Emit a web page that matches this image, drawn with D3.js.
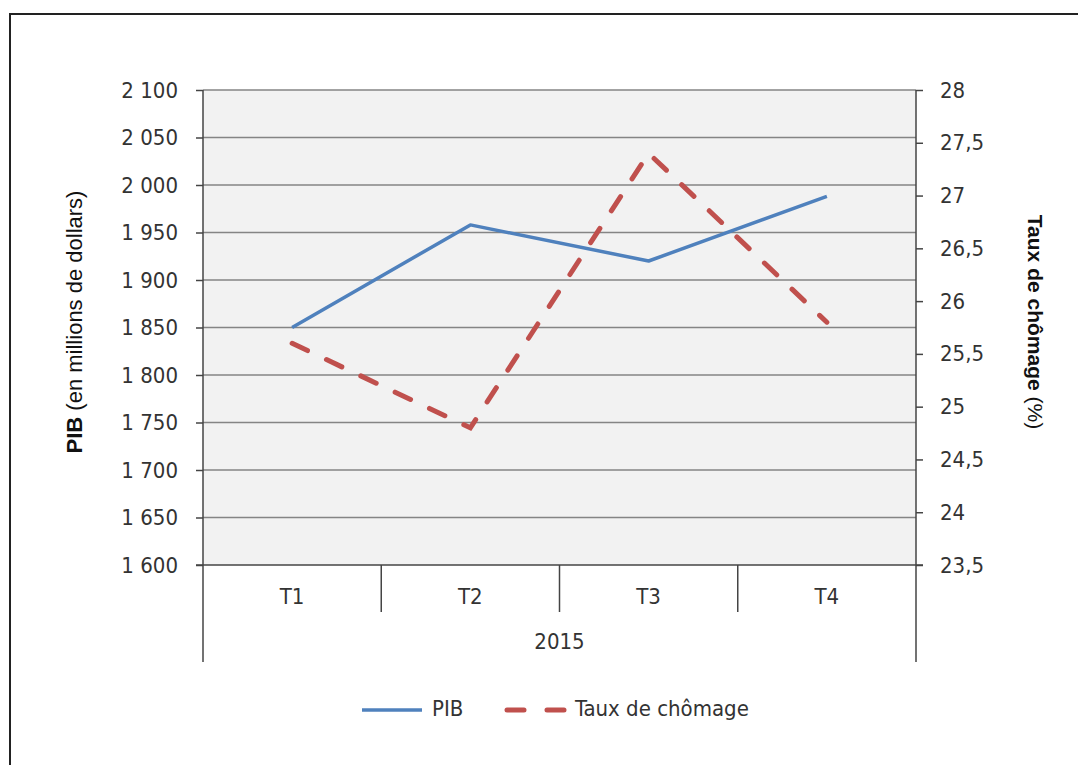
<!DOCTYPE html>
<html>
<head>
<meta charset="utf-8">
<script src="https://cdn.jsdelivr.net/npm/d3@7"></script>
<style>
  body { margin: 0; background: #fff; }
  svg { display: block; }
</style>
</head>
<body>
<div id="chart"></div>
<script>
const quarters = ["T1", "T2", "T3", "T4"];
const year = "2015";
const pib = [1850, 1958, 1920, 1988];
const chomage = [25.6, 24.8, 27.4, 25.8];
const pibTicks = d3.range(1600, 2101, 50);
const chomageTicks = d3.range(23.5, 28.01, 0.5);
const seriesNames = ["PIB", "Taux de chômage"];

const width = 1078;
const height = 765;
const plot = { left: 203, right: 916, top: 90, bottom: 565 };
const catBottom = 612;
const axisBottom = 662;

const narrow = "'Liberation Sans Narrow', 'Arial Narrow', 'DejaVu Sans Condensed', sans-serif";
const regular = "'Liberation Sans', Arial, sans-serif";
const textColor = "#333";
const blue = "#4f81bd";
const red = "#c0504d";

const fr = d3.formatLocale({ decimal: ",", thousands: " ", grouping: [3], currency: ["", " €"] });
const fmtLeft = fr.format(",d");
const fmtRight = fr.format(".1~f");

const x = d3.scaleBand(quarters, [plot.left, plot.right]);
const yLeft = d3.scaleLinear([1600, 2100], [plot.bottom, plot.top]);
const yRight = d3.scaleLinear([23.5, 28], [plot.bottom, plot.top]);

const svg = d3.select("#chart").append("svg")
  .attr("width", width)
  .attr("height", height);

// cadre extérieur
svg.append("rect")
  .attr("x", 10).attr("y", 14)
  .attr("width", 1200).attr("height", 900)
  .attr("fill", "#fff")
  .attr("stroke", "#222")
  .attr("stroke-width", 2);

// zone de tracé
svg.append("rect")
  .attr("x", plot.left).attr("y", plot.top)
  .attr("width", plot.right - plot.left)
  .attr("height", plot.bottom - plot.top)
  .attr("fill", "#f2f2f2");

// quadrillage
svg.append("g")
  .selectAll("line")
  .data(pibTicks.slice(1))
  .join("line")
  .attr("x1", plot.left).attr("x2", plot.right)
  .attr("y1", (d) => yLeft(d)).attr("y2", (d) => yLeft(d))
  .attr("stroke", "#858585")
  .attr("stroke-width", 1.5);

// axe gauche
const leftAxis = svg.append("g")
  .attr("transform", `translate(${plot.left},0)`)
  .call(d3.axisLeft(yLeft).tickValues(pibTicks).tickFormat(fmtLeft).tickSize(7).tickSizeOuter(0).tickPadding(18));
leftAxis.select(".domain").remove();
leftAxis.selectAll("line").attr("stroke", "#444").attr("stroke-width", 1.5);
leftAxis.selectAll("text")
  .attr("fill", textColor)
  .style("font-family", narrow)
  .style("font-size", "22px");

// axe droit
const rightAxis = svg.append("g")
  .attr("transform", `translate(${plot.right},0)`)
  .call(d3.axisRight(yRight).tickValues(chomageTicks).tickFormat(fmtRight).tickSize(7).tickSizeOuter(0).tickPadding(17));
rightAxis.select(".domain").remove();
rightAxis.selectAll("line").attr("stroke", "#444").attr("stroke-width", 1.5);
rightAxis.selectAll("text")
  .attr("fill", textColor)
  .style("font-family", narrow)
  .style("font-size", "22px");

// lignes des axes
const axisLines = svg.append("g").attr("stroke", "#444").attr("stroke-width", 1.5);
axisLines.append("line")
  .attr("x1", plot.left - 7).attr("x2", plot.right + 7)
  .attr("y1", plot.bottom).attr("y2", plot.bottom);
axisLines.selectAll("line.v")
  .data([plot.left, plot.right])
  .join("line")
  .attr("class", "v")
  .attr("x1", (d) => d).attr("x2", (d) => d)
  .attr("y1", plot.top).attr("y2", axisBottom);
axisLines.selectAll("line.sep")
  .data(quarters.slice(1))
  .join("line")
  .attr("class", "sep")
  .attr("x1", (d) => x(d)).attr("x2", (d) => x(d))
  .attr("y1", plot.bottom).attr("y2", catBottom);

// étiquettes de catégories
svg.append("g")
  .selectAll("text")
  .data(quarters)
  .join("text")
  .attr("x", (d) => x(d) + x.bandwidth() / 2)
  .attr("y", 598)
  .attr("text-anchor", "middle")
  .attr("dominant-baseline", "middle")
  .attr("fill", textColor)
  .style("font-family", narrow)
  .style("font-size", "22px")
  .text((d) => d);

svg.append("text")
  .attr("x", (plot.left + plot.right) / 2)
  .attr("y", 643)
  .attr("text-anchor", "middle")
  .attr("dominant-baseline", "middle")
  .attr("fill", textColor)
  .style("font-family", narrow)
  .style("font-size", "22px")
  .text(year);

// séries
const cx = (d, i) => x(quarters[i]) + x.bandwidth() / 2;

svg.append("path")
  .datum(pib)
  .attr("d", d3.line().x(cx).y((d) => yLeft(d)))
  .attr("fill", "none")
  .attr("stroke", blue)
  .attr("stroke-width", 3.5)
  .attr("stroke-linejoin", "round");

svg.append("path")
  .datum(chomage)
  .attr("d", d3.line().x(cx).y((d) => yRight(d)))
  .attr("fill", "none")
  .attr("stroke", red)
  .attr("stroke-width", 5)
  .attr("stroke-linecap", "round")
  .attr("stroke-dasharray", "17 21");

// titres des axes
const leftTitle = svg.append("text")
  .attr("transform", "translate(82,322) rotate(-90)")
  .attr("text-anchor", "middle")
  .attr("fill", "#111")
  .style("font-family", regular)
  .style("font-size", "22px");
leftTitle.append("tspan").attr("font-weight", "bold").text("PIB");
leftTitle.append("tspan").text(" (en millions de dollars)");

const rightTitle = svg.append("text")
  .attr("transform", "translate(1028,322) rotate(90)")
  .attr("text-anchor", "middle")
  .attr("fill", "#111")
  .style("font-family", regular)
  .style("font-size", "21px");
rightTitle.append("tspan").attr("font-weight", "bold").text("Taux de chômage");
rightTitle.append("tspan").text(" (%)");

// légende
const legend = svg.append("g").attr("transform", "translate(0,710)");
const legendItems = [
  { name: seriesNames[0], x: 362, color: blue, width: 3.5, dash: null, cap: "butt" },
  { name: seriesNames[1], x: 507, color: red, width: 5, dash: "17 23", cap: "round" },
];
const item = legend.selectAll("g")
  .data(legendItems)
  .join("g")
  .attr("transform", (d) => `translate(${d.x},0)`);
item.append("line")
  .attr("x1", 0).attr("x2", (d) => (d.dash ? 60 : 60))
  .attr("y1", 0).attr("y2", 0)
  .attr("stroke", (d) => d.color)
  .attr("stroke-width", (d) => d.width)
  .attr("stroke-linecap", (d) => d.cap)
  .attr("stroke-dasharray", (d) => d.dash);
item.append("text")
  .attr("x", (d) => (d.dash ? 68 : 70))
  .attr("y", 0)
  .attr("dominant-baseline", "middle")
  .attr("fill", textColor)
  .style("font-family", narrow)
  .style("font-size", "22px")
  .text((d) => d.name);
</script>
</body>
</html>
